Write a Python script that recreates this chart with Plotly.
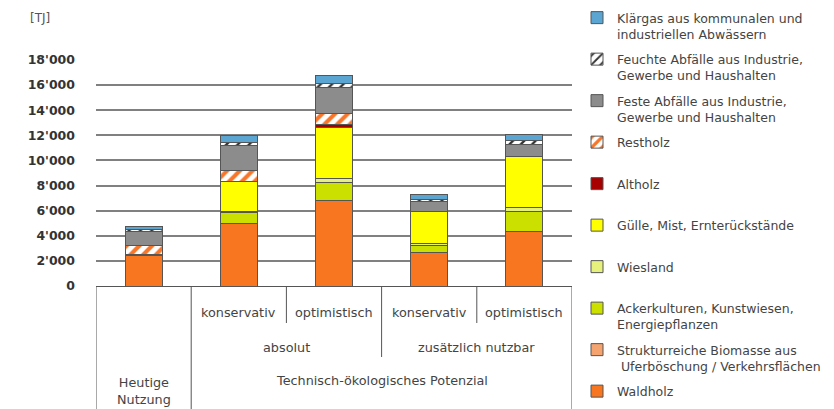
import plotly.graph_objects as go

# ---------------- data ----------------
categories = ["Heutige Nutzung", "absolut konservativ", "absolut optimistisch",
              "zusätzlich konservativ", "zusätzlich optimistisch"]

waldholz = [2450, 5000, 6800, 2650, 4350]
struktur = [0, 0, 0, 0, 0]
acker = [0, 850, 1450, 600, 1550]
wiesland = [0, 100, 350, 150, 350]
guelle = [0, 2350, 4050, 2500, 4050]
altholz = [60, 60, 250, 0, 0]
restholz = [750, 800, 850, 0, 0]
feste = [1100, 2000, 2050, 850, 1000]
feuchte = [150, 250, 300, 150, 250]
klaergas = [200, 600, 700, 400, 550]

tick_vals = [0, 2000, 4000, 6000, 8000, 10000, 12000, 14000, 16000, 18000]
tick_text = ["0", "2'000", "4'000", "6'000", "8'000", "10'000", "12'000",
             "14'000", "16'000", "18'000"]

level1_labels = ["konservativ", "optimistisch", "konservativ", "optimistisch"]
level2_labels = ["absolut", "zusätzlich nutzbar"]
level3_labels = ["Heutige<br>Nutzung", "Technisch-ökologisches Potenzial"]
unit_label = "[TJ]"

series = [
    ("Waldholz<br> ", waldholz, "#F8761F", None),
    ("Strukturreiche Biomasse aus<br> Uferböschung / Verkehrsflächen", struktur, "#F5A46F", None),
    ("Ackerkulturen, Kunstwiesen,<br>Energiepflanzen", acker, "#CCE000", None),
    ("Wiesland<br> ", wiesland, "#E6F07C", None),
    ("Gülle, Mist, Ernterückstände<br> ", guelle, "#FFFF00", None),
    ("Altholz<br> ", altholz, "#A80000", None),
    ("Restholz<br> ", restholz, "#FFFFFF", dict(shape="/", fgcolor="#F7762A", bgcolor="#FFFFFF",
                                                 size=9, solidity=0.45, fillmode="replace")),
    ("Feste Abfälle aus Industrie,<br>Gewerbe und Haushalten", feste, "#8C8C8C", None),
    ("Feuchte Abfälle aus Industrie,<br>Gewerbe und Haushalten", feuchte, "#FFFFFF",
     dict(shape="/", fgcolor="#333333", bgcolor="#FFFFFF", size=8, solidity=0.3, fillmode="replace")),
    ("Klärgas aus kommunalen und<br>industriellen Abwässern", klaergas, "#5AA5D2", None),
]

fig = go.Figure()
n = len(series)
for i, (name, vals, color, pattern) in enumerate(series):
    marker = dict(color=color, line=dict(color="#555555", width=1))
    if pattern:
        marker["pattern"] = pattern
    fig.add_trace(go.Bar(x=categories, y=vals, name=name, marker=marker,
                         width=0.39, legendgroup=f"g{i}", legendrank=n - i))

# ---------------- layout ----------------
L, R, T, B = 96, 262, 60, 123
W, H = 834, 409
ph = H - T - B
pw = W - L - R

def py(pix):
    return (H - B - pix) / ph

def px(pix):
    return (pix - L) / pw

line_col = "#555555"
shapes = []
shapes.append(dict(type="line", xref="x", yref="paper", x0=-0.5, x1=-0.5, y0=0, y1=py(420)))
shapes.append(dict(type="line", xref="x", yref="paper", x0=4.5, x1=4.5, y0=0, y1=py(420)))
shapes.append(dict(type="line", xref="x", yref="paper", x0=0.5, x1=0.5, y0=0, y1=py(420)))
shapes.append(dict(type="line", xref="x", yref="paper", x0=2.5, x1=2.5, y0=0, y1=py(357)))
shapes.append(dict(type="line", xref="x", yref="paper", x0=1.5, x1=1.5, y0=0, y1=py(323)))
shapes.append(dict(type="line", xref="x", yref="paper", x0=3.5, x1=3.5, y0=0, y1=py(323)))
for s in shapes:
    s["line"] = dict(color=line_col, width=1)

lab_font = dict(family="DejaVu Sans", size=12.8, color="#444444")
annotations = []
for i, t in enumerate(level1_labels):
    annotations.append(dict(x=i + 1, y=py(312), text=t))
for i, t in enumerate(level2_labels):
    annotations.append(dict(x=1.5 + 2 * i, y=py(347), text=t))
annotations.append(dict(x=0, y=py(391), text=level3_labels[0]))
annotations.append(dict(x=2.5, y=py(380), text=level3_labels[1]))
for a in annotations:
    a.update(xref="x", yref="paper", showarrow=False, font=lab_font,
             xanchor="center", yanchor="middle")
annotations.append(dict(x=px(28), y=py(18), xref="paper", yref="paper", text=unit_label,
                        showarrow=False, font=dict(family="DejaVu Sans", size=12, color="#555555"),
                        xanchor="left", yanchor="middle"))

fig.update_layout(
    width=W, height=H,
    margin=dict(l=L, r=R, t=T, b=B, pad=0, autoexpand=False),
    paper_bgcolor="#FFFFFF", plot_bgcolor="#FFFFFF",
    barmode="stack",
    shapes=shapes,
    annotations=annotations,
    legend=dict(
        traceorder="grouped", x=px(577), xanchor="left",
        y=py(3), yanchor="top", valign="top", tracegroupgap=6,
        maxheight=440,
        font=dict(family="DejaVu Sans", size=12.5, color="#444444"),
        bgcolor="rgba(0,0,0,0)",
    ),
    xaxis=dict(type="category", categoryarray=categories, range=[-0.5, 4.5],
               showticklabels=False, showgrid=False, zeroline=False,
               showline=True, linecolor=line_col, linewidth=1, ticks=""),
    yaxis=dict(range=[0, 18000], tickvals=tick_vals, ticktext=tick_text,
               showgrid=True, gridcolor="#808080", gridwidth=1.6, zeroline=False,
               showline=False, ticks="", ticklabelstandoff=20,
               tickfont=dict(family="DejaVu Sans", size=12.5, color="#333333", weight="bold")),
    font=dict(family="DejaVu Sans"),
)

fig.write_html("out.html", config={"displayModeBar": False},
               post_script="document.body.style.margin='0';")
